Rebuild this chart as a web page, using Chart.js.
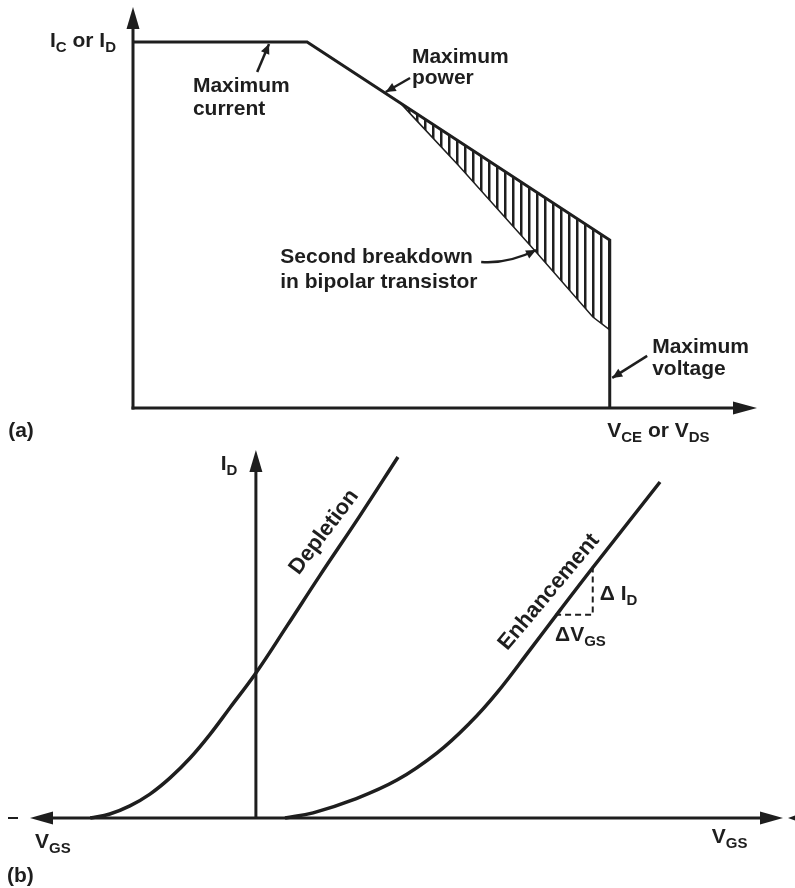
<!DOCTYPE html>
<html>
<head>
<meta charset="utf-8">
<script src="https://cdn.jsdelivr.net/npm/chart.js@4.4.1/dist/chart.umd.min.js"></script>
<style>
  body { margin: 0; background: #fff; }
  #wrap { position: relative; width: 795px; height: 888px; }
  canvas { position: absolute; left: 0; }
</style>
</head>
<body>
<div id="wrap">
  <canvas id="chartA" width="795" height="445" style="top:0"></canvas>
  <canvas id="chartB" width="795" height="443" style="top:445px"></canvas>
</div>
<script>
// (a) safe operating area, both axes in % of full scale
var soaV = [0, 27.9, 76.4, 76.4];
var soaI = [91.3, 91.3, 41.9, 0];
// second breakdown edge (lower side of hatched area)
var sbV = [42.8, 44.9, 52.1, 64.7, 73.7, 76.4];
var sbI = [76.1, 72.6, 60.6, 38.7, 22.7, 19.5];
// upper side of hatched area = max power line
var mpV = [42.8, 76.4];
var mpI = [76.1, 41.9];

// (b) transfer characteristics, V_GS and I_D in arbitrary units
var deplV = [-3.30, -2.91, -2.51, -2.11, -1.71, -1.31, -0.91, -0.52, 0, 0.62, 1.27, 2.07, 2.83];
var deplI = [0, 0.11, 0.33, 0.65, 1.09, 1.63, 2.28, 2.99, 3.94, 5.22, 6.58, 8.21, 9.81];
var enhV = [0.58, 1.14, 1.93, 2.81, 3.61, 4.26, 4.80, 5.46, 6.06, 6.72, 8.05];
var enhI = [0, 0.14, 0.49, 1.03, 1.77, 2.58, 3.40, 4.57, 5.65, 6.82, 9.13];
// slope triangle (dVgs, dId)
var triV = [5.96, 6.71, 6.71];
var triI = [5.52, 5.52, 6.88];

var ink = '#1e1e1e';
var FONT = '"Liberation Sans", Arial, Helvetica, sans-serif';

function pts(xs, ys) {
  return xs.map(function (x, i) { return { x: x, y: ys[i] }; });
}

// text labels, positions in data units
var notesA = [
  { parts: [['I'], ['C', 1], [' or I'], ['D', 1]], x: -13.3, y: 90.0 },
  { parts: [['Maximum']], x: 9.6, y: 78.8 },
  { parts: [['current']], x: 9.6, y: 73.1 },
  { parts: [['Maximum']], x: 44.7, y: 86.0 },
  { parts: [['power']], x: 44.7, y: 80.8 },
  { parts: [['Second breakdown']], x: 23.6, y: 36.2 },
  { parts: [['in bipolar transistor']], x: 23.6, y: 29.9 },
  { parts: [['Maximum']], x: 83.2, y: 13.7 },
  { parts: [['voltage']], x: 83.2, y: 8.2 },
  { parts: [['V'], ['CE', 1], [' or V'], ['DS', 1]], x: 76.0, y: -7.2 },
  { parts: [['(a)']], x: -20.0, y: -7.2 }
];
var arrowsA = [
  { from: [19.9, 83.8], to: [21.8, 90.8] },
  { from: [44.4, 82.3], to: [40.5, 78.8] },
  { from: [55.8, 36.4], ctrl: [60.1, 35.9], to: [64.6, 39.4] },
  { from: [82.4, 13.0], to: [76.8, 7.5] }
];
var notesB = [
  { parts: [['I'], ['D', 1]], x: -0.70, y: 9.46 },
  { parts: [['\u0394 I'], ['D', 1]], x: 6.85, y: 5.92 },
  { parts: [['\u0394V'], ['GS', 1]], x: 5.96, y: 4.81 },
  { parts: [['V'], ['GS', 1]], x: -4.40, y: -0.82 },
  { parts: [['V'], ['GS', 1]], x: 9.08, y: -0.68 },
  { parts: [['(b)']], x: -4.96, y: -1.74 }
];
var rotB = [
  { text: 'Depletion', x: 1.36, y: 7.77, angle: -53 },
  { text: 'Enhancement', x: 5.84, y: 6.14, angle: -50 }
];

function rich(ctx, parts, x, y, size) {
  parts.forEach(function (p) {
    var sub = p[1];
    ctx.font = 'bold ' + (sub ? 15 : size) + 'px ' + FONT;
    ctx.fillText(p[0], x, sub ? y + 5 : y);
    x += ctx.measureText(p[0]).width;
  });
}

function head(ctx, x1, y1, x2, y2, len, half) {
  var a = Math.atan2(y2 - y1, x2 - x1);
  var c = Math.cos(a), s = Math.sin(a);
  ctx.beginPath();
  ctx.moveTo(x2, y2);
  ctx.lineTo(x2 - len * c + half * s, y2 - len * s - half * c);
  ctx.lineTo(x2 - len * c - half * s, y2 - len * s + half * c);
  ctx.closePath();
  ctx.fill();
}

function line(ctx, x1, y1, x2, y2, w) {
  ctx.lineWidth = w;
  ctx.beginPath();
  ctx.moveTo(x1, y1);
  ctx.lineTo(x2, y2);
  ctx.stroke();
}

function drawNotes(chart, notes, arrows, rots) {
  var ctx = chart.ctx, sx = chart.scales.x, sy = chart.scales.y;
  ctx.save();
  ctx.fillStyle = ink;
  ctx.strokeStyle = ink;
  ctx.textBaseline = 'alphabetic';
  ctx.textAlign = 'left';
  notes.forEach(function (n) {
    rich(ctx, n.parts, sx.getPixelForValue(n.x), sy.getPixelForValue(n.y), 21);
  });
  (arrows || []).forEach(function (a) {
    var x1 = sx.getPixelForValue(a.from[0]), y1 = sy.getPixelForValue(a.from[1]);
    var x2 = sx.getPixelForValue(a.to[0]), y2 = sy.getPixelForValue(a.to[1]);
    ctx.lineWidth = 2.5;
    ctx.beginPath();
    ctx.moveTo(x1, y1);
    var bx = x1, by = y1;
    if (a.ctrl) {
      bx = sx.getPixelForValue(a.ctrl[0]);
      by = sy.getPixelForValue(a.ctrl[1]);
      ctx.quadraticCurveTo(bx, by, x2, y2);
    } else {
      ctx.lineTo(x2, y2);
    }
    ctx.stroke();
    head(ctx, bx, by, x2, y2, 10, 4.5);
  });
  (rots || []).forEach(function (r) {
    ctx.save();
    ctx.translate(sx.getPixelForValue(r.x), sy.getPixelForValue(r.y));
    ctx.rotate(r.angle * Math.PI / 180);
    ctx.textAlign = 'center';
    ctx.textBaseline = 'middle';
    ctx.font = 'bold 22px ' + FONT;
    ctx.fillText(r.text, 0, 0);
    ctx.restore();
  });
  ctx.restore();
}

var axesA = {
  id: 'axesA',
  afterDraw: function (chart) {
    var ctx = chart.ctx, sx = chart.scales.x, sy = chart.scales.y;
    var x0 = sx.getPixelForValue(0), x1 = sx.getPixelForValue(100);
    var y0 = sy.getPixelForValue(0), y1 = sy.getPixelForValue(100);
    ctx.save();
    ctx.strokeStyle = ink;
    ctx.fillStyle = ink;
    line(ctx, x0, y0 + 1.5, x0, y1 + 10, 3);
    head(ctx, x0, y0, x0, y1, 22, 6.5);
    line(ctx, x0 - 1.5, y0, x1 - 10, y0, 3);
    head(ctx, x0, y0, x1, y0, 24, 6.5);
    ctx.restore();
    drawNotes(chart, notesA, arrowsA);
  }
};

var axesB = {
  id: 'axesB',
  afterDraw: function (chart) {
    var ctx = chart.ctx, sx = chart.scales.x, sy = chart.scales.y;
    var xl = sx.getPixelForValue(sx.min), xr = sx.getPixelForValue(sx.max);
    var x0 = sx.getPixelForValue(0);
    var y0 = sy.getPixelForValue(0), yt = sy.getPixelForValue(sy.max);
    ctx.save();
    ctx.strokeStyle = ink;
    ctx.fillStyle = ink;
    line(ctx, xl + 10, y0, xr - 10, y0, 3);
    head(ctx, xr, y0, xl, y0, 23, 6.5);
    head(ctx, xl, y0, xr, y0, 23, 6.5);
    line(ctx, xl - 22, y0, xl - 12, y0, 2);
    head(ctx, xr + 25, y0, xr + 5, y0, 18, 6.5);
    line(ctx, x0, y0, x0, yt + 10, 3);
    head(ctx, x0, y0, x0, yt, 22, 6.5);
    ctx.restore();
    drawNotes(chart, notesB, null, rotB);
  }
};

// vertical hatching for the second breakdown region
var hc = document.createElement('canvas');
hc.width = 8;
hc.height = 8;
var hctx = hc.getContext('2d');
hctx.fillStyle = ink;
hctx.fillRect(0, 0, 2.5, 8);
var hatch = hctx.createPattern(hc, 'repeat');

var baseOpts = {
  responsive: false,
  animation: false,
  events: [],
  plugins: { legend: { display: false }, tooltip: { enabled: false } }
};

new Chart(document.getElementById('chartA'), {
  type: 'scatter',
  data: {
    datasets: [
      {
        data: pts(sbV, sbI),
        showLine: true, pointRadius: 0, borderColor: ink, borderWidth: 1.5,
        backgroundColor: hatch, fill: '+1', clip: false, tension: 0
      },
      {
        data: pts(mpV, mpI),
        showLine: true, pointRadius: 0, borderWidth: 0, borderColor: 'rgba(0,0,0,0)',
        fill: false, clip: false
      },
      {
        data: pts(soaV, soaI),
        showLine: true, pointRadius: 0, borderColor: ink, borderWidth: 3,
        fill: false, clip: false, tension: 0, borderJoinStyle: 'miter'
      }
    ]
  },
  options: Object.assign({}, baseOpts, {
    layout: { padding: { left: 133, right: 38, top: 7, bottom: 37 } },
    scales: {
      x: { type: 'linear', min: 0, max: 100, display: false },
      y: { type: 'linear', min: 0, max: 100, display: false }
    }
  }),
  plugins: [axesA]
});

new Chart(document.getElementById('chartB'), {
  type: 'scatter',
  data: {
    datasets: [
      {
        data: pts(deplV, deplI),
        showLine: true, pointRadius: 0, borderColor: ink, borderWidth: 3.5,
        tension: 0.4, fill: false, clip: false
      },
      {
        data: pts(enhV, enhI),
        showLine: true, pointRadius: 0, borderColor: ink, borderWidth: 3.5,
        tension: 0.4, fill: false, clip: false
      },
      {
        data: pts(triV, triI),
        showLine: true, pointRadius: 0, borderColor: ink, borderWidth: 2,
        borderDash: [6, 4], fill: false, clip: false, tension: 0
      }
    ]
  },
  options: Object.assign({}, baseOpts, {
    layout: { padding: { left: 30, right: 12, top: 5, bottom: 70 } },
    scales: {
      x: { type: 'linear', min: -4.5, max: 10.5, display: false },
      y: { type: 'linear', min: 0, max: 10, display: false }
    }
  }),
  plugins: [axesB]
});
</script>
</body>
</html>
